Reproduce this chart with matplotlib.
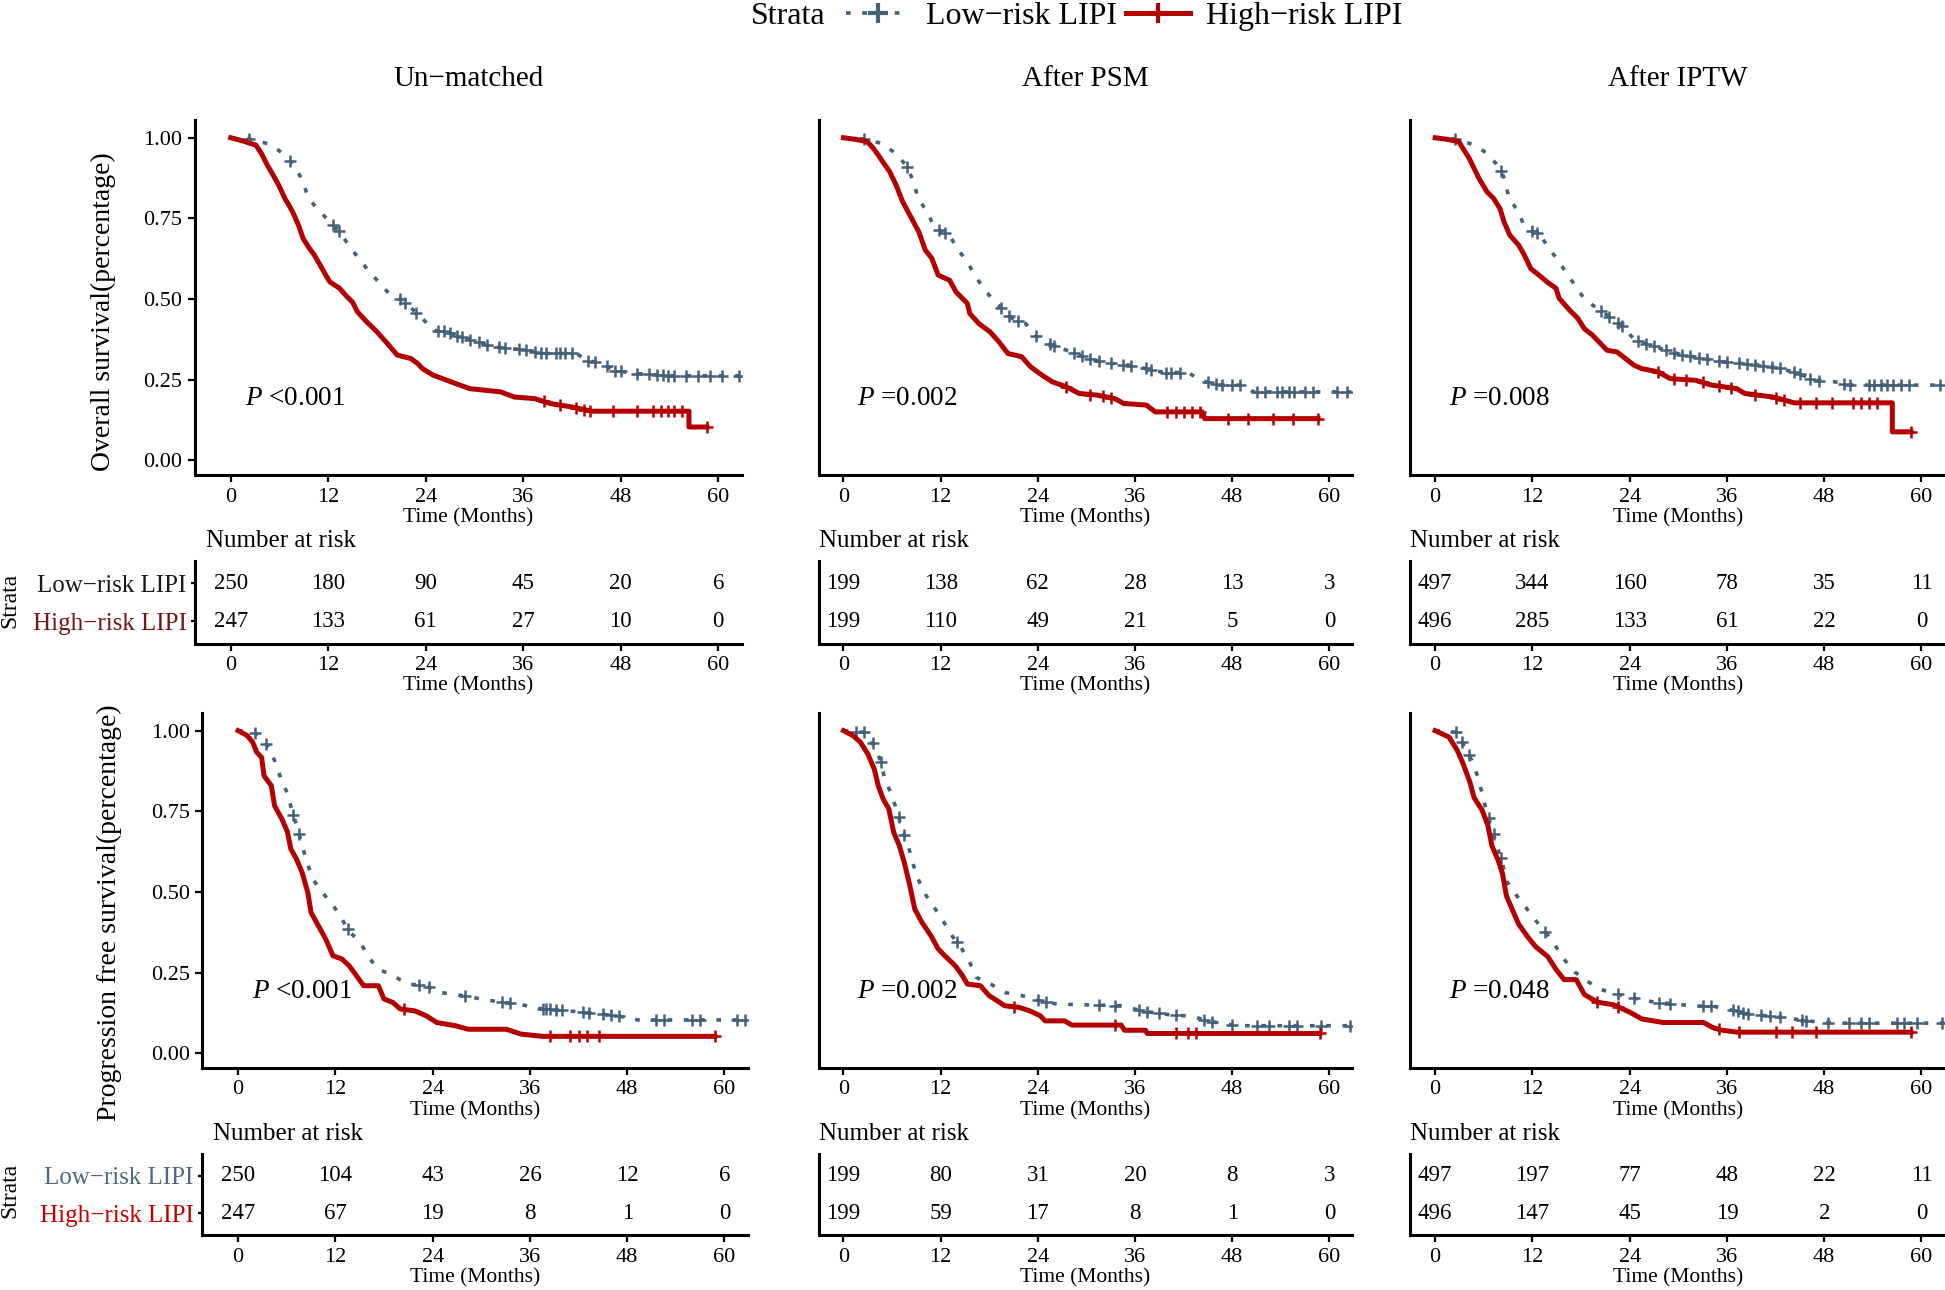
import matplotlib
matplotlib.use('Agg')
import matplotlib.pyplot as plt
from matplotlib.lines import Line2D
import numpy as np

plt.rcParams['font.family'] = ['Liberation Serif', 'DejaVu Serif']
plt.rcParams['mathtext.fontset'] = 'custom'
plt.rcParams['mathtext.rm'] = 'Liberation Serif'
plt.rcParams['mathtext.it'] = 'Liberation Serif:italic'

MINUS = '\u2212'
col_titles = ['Un' + MINUS + 'matched', 'After PSM', 'After IPTW']
strata_labels = ['Low' + MINUS + 'risk LIPI', 'High' + MINUS + 'risk LIPI']
row_ylabels = ['Overall survival(percentage)', 'Progression free survival(percentage)']
risk_times = [0, 12, 24, 36, 48, 60]

# curves are traced as (time, survival) points

# ---- Overall survival, un-matched
os_unm_low_t = [0, 2.3, 4.8, 6.5, 7.8, 8.8, 9.5, 10.6, 12.0, 13.4, 14.5, 15.6, 16.9, 18.2, 19.4, 21.1,
                22.5, 23.8, 24.9, 26.6, 28.2, 30.5, 32.1, 36.5, 38.7, 42.6, 43.7, 45.9, 47.0, 49.8, 54.2, 62.9]
os_unm_low_s = [1.0, 0.996, 0.98, 0.95, 0.915, 0.869, 0.817, 0.78, 0.745, 0.708, 0.667, 0.631, 0.589, 0.553,
                0.519, 0.496, 0.465, 0.434, 0.403, 0.398, 0.383, 0.367, 0.352, 0.341, 0.331, 0.331, 0.31,
                0.30, 0.279, 0.269, 0.262, 0.262]
os_unm_low_c = [2.3, 7.3, 12.6, 13.3, 20.8, 21.5, 22.8, 25.5, 26.2, 27, 27.8, 28.5, 29.5, 30.5, 31.5, 33,
                33.8, 35.5, 36.3, 37.5, 38.2, 38.8, 40, 40.5, 41.2, 42, 44, 44.8, 46.3, 47.3, 48, 50, 51.5,
                52.5, 53.2, 53.8, 54.5, 56, 57.5, 59, 60.5, 62.5]
os_unm_high_t = [0, 1.5, 3.1, 3.8, 4.5, 5.2, 5.9, 6.7, 7.3, 7.8, 8.4, 8.9, 9.6, 10.3, 11.0, 11.7, 12.2, 13.4,
                 14.2, 15.0, 15.6, 16.7, 18.0, 19.1, 20.5, 22.2, 23.0, 23.6, 24.9, 26.6, 28.2, 29.4, 33.2,
                 34.9, 37.4, 39.3, 42.0, 44.5, 56.4, 56.4, 58.6]
os_unm_high_s = [1.0, 0.99, 0.977, 0.95, 0.915, 0.885, 0.853, 0.81, 0.785, 0.76, 0.725, 0.688, 0.66, 0.636,
                 0.605, 0.574, 0.553, 0.533, 0.51, 0.49, 0.46, 0.43, 0.398, 0.367, 0.326, 0.315, 0.30, 0.284,
                 0.264, 0.248, 0.233, 0.222, 0.212, 0.196, 0.191, 0.176, 0.165, 0.152, 0.152, 0.103, 0.103]
os_unm_high_c = [38.5, 40.5, 42.5, 43.5, 44.2, 47, 50, 52, 53, 53.8, 54.5, 55.5, 58.6]

# ---- Overall survival, after PSM
os_psm_low_t = [0, 2.5, 4.8, 6.5, 7.7, 8.7, 9.2, 10.4, 11.2, 13.1, 14.0, 15.3, 16.2, 17.3, 18.5, 20.0, 21.1,
                22.5, 23.2, 24.7, 26.4, 28.6, 30.2, 32.4, 35.2, 37.4, 39.6, 42.6, 44.0, 46.5, 49.2, 50.6, 62.7]
os_psm_low_s = [1.0, 0.996, 0.982, 0.95, 0.915, 0.863, 0.81, 0.77, 0.72, 0.698, 0.657, 0.615, 0.574, 0.533,
                0.496, 0.46, 0.434, 0.424, 0.398, 0.367, 0.352, 0.331, 0.315, 0.302, 0.295, 0.284, 0.272,
                0.272, 0.248, 0.233, 0.233, 0.212, 0.212]
os_psm_low_c = [2.5, 7.8, 11.8, 12.5, 19.5, 20.5, 21.5, 23.8, 25.5, 26, 28.5, 29.5, 30.5, 31.5, 33, 34.5,
                35.5, 37.3, 38, 39.8, 40.5, 41.5, 45, 46, 46.8, 48, 49, 51, 52, 53.5, 54.2, 55, 55.6, 57,
                58, 61, 62.2]
os_psm_high_t = [0, 1.5, 2.9, 3.6, 4.3, 5.0, 5.7, 6.5, 7.3, 8.2, 9.3, 10.1, 10.9, 11.7, 13.1, 13.9, 15.3,
                 15.6, 16.7, 18.1, 19.2, 20.3, 22.0, 23.1, 24.5, 25.8, 27.5, 29.1, 31.3, 33.5, 34.6, 37.4,
                 38.5, 44.3, 44.6, 58.6]
os_psm_high_s = [1.0, 0.995, 0.988, 0.97, 0.946, 0.92, 0.895, 0.853, 0.802, 0.76, 0.708, 0.652, 0.626, 0.574,
                 0.558, 0.522, 0.486, 0.455, 0.424, 0.398, 0.367, 0.331, 0.321, 0.29, 0.264, 0.243, 0.228,
                 0.207, 0.202, 0.191, 0.176, 0.171, 0.15, 0.15, 0.129, 0.129]
os_psm_high_c = [27.5, 30.5, 32, 33, 40, 41, 42, 43, 44, 47.5, 50, 53, 55.5, 58.6]

# ---- Overall survival, after IPTW
os_iptw_low_t = [0, 2.5, 4.9, 6.4, 7.5, 8.2, 8.6, 9.1, 10.3, 11.0, 13.0, 14.0, 15.2, 16.2, 17.4, 18.5, 20.4,
                 21.2, 22.4, 23.5, 24.7, 26.5, 28.5, 30.6, 33.1, 35.6, 38.2, 40.2, 42.7, 44.8, 46.8, 49.3,
                 51.4, 62.9]
os_iptw_low_s = [1.0, 0.996, 0.977, 0.951, 0.92, 0.894, 0.869, 0.812, 0.77, 0.724, 0.698, 0.657, 0.62, 0.579,
                 0.538, 0.496, 0.465, 0.45, 0.429, 0.403, 0.372, 0.357, 0.341, 0.326, 0.315, 0.305, 0.30,
                 0.295, 0.284, 0.269, 0.248, 0.243, 0.233, 0.233]
os_iptw_low_c = [2.5, 8.1, 12, 12.6, 20.5, 21.5, 22.5, 23, 25, 26, 27, 28.5, 29.5, 30.5, 31.5, 32.5, 33.5,
                 35, 36, 37.5, 38.5, 39.5, 40.5, 41.5, 42.5, 44.3, 45, 46.3, 47.3, 50.5, 51.2, 53.5, 54.2,
                 55, 55.8, 56.5, 57.5, 58.5, 62.3]
os_iptw_high_t = [0, 1.5, 2.9, 3.6, 4.2, 4.8, 5.4, 6.4, 7.2, 8.0, 8.5, 9.2, 10.3, 11.0, 11.8, 12.8, 13.8,
                  14.9, 15.3, 16.6, 17.6, 18.4, 19.4, 20.4, 21.2, 22.4, 23.5, 24.5, 25.5, 27.5, 29.0, 32.1,
                  34.1, 37.2, 38.2, 41.7, 44.3, 56.4, 56.4, 58.7]
os_iptw_high_s = [1.0, 0.995, 0.988, 0.96, 0.936, 0.905, 0.874, 0.832, 0.812, 0.78, 0.739, 0.698, 0.667,
                  0.636, 0.594, 0.574, 0.553, 0.533, 0.502, 0.465, 0.44, 0.408, 0.388, 0.362, 0.341, 0.336,
                  0.315, 0.295, 0.284, 0.274, 0.253, 0.248, 0.233, 0.222, 0.207, 0.196, 0.178, 0.178, 0.088,
                  0.088]
os_iptw_high_c = [27.5, 29.5, 31, 33, 35, 36.5, 39.5, 42, 43, 45, 47, 49, 51.5, 52.5, 53.5, 54.5, 58.7]

# ---- Progression free survival, un-matched
pfs_unm_low_t = [0, 2.0, 2.9, 3.8, 4.5, 5.3, 6.1, 6.7, 7.3, 7.9, 8.5, 9.2, 10.4, 11.6, 12.6, 13.6, 15.1,
                 16.1, 17.3, 19.1, 21.0, 23.2, 25.0, 27.7, 30.0, 32.2, 34.7, 36.9, 42.1, 44.8, 47.1, 49.3, 62.8]
pfs_unm_low_s = [1.0, 0.995, 0.979, 0.948, 0.907, 0.85, 0.804, 0.747, 0.70, 0.643, 0.592, 0.54, 0.498,
                 0.462, 0.426, 0.38, 0.343, 0.297, 0.261, 0.24, 0.214, 0.209, 0.188, 0.178, 0.168, 0.159,
                 0.152, 0.139, 0.128, 0.121, 0.114, 0.103, 0.103]
pfs_unm_low_c = [2.1, 3.5, 6.8, 7.5, 13.5, 22.3, 23.5, 28, 32.5, 33.5, 37.6, 38, 38.5, 39.2, 40, 42.5, 43.3,
                 45, 46, 47, 51.5, 52.5, 56, 57, 61.5, 62.5]
pfs_unm_high_t = [0, 1.1, 1.8, 2.3, 2.9, 3.2, 4.1, 4.5, 5.4, 6.1, 6.5, 7.2, 7.9, 8.6, 9.0, 9.9, 10.8, 11.7,
                  12.8, 13.7, 14.6, 15.5, 17.3, 18.0, 19.1, 20.0, 21.8, 23.2, 24.5, 26.8, 28.4, 33.1, 34.9,
                  37.6, 58.8]
pfs_unm_high_s = [1.0, 0.985, 0.964, 0.933, 0.917, 0.86, 0.829, 0.767, 0.726, 0.685, 0.633, 0.602, 0.56,
                  0.498, 0.436, 0.395, 0.354, 0.302, 0.292, 0.271, 0.24, 0.209, 0.209, 0.168, 0.157, 0.137,
                  0.131, 0.116, 0.095, 0.085, 0.074, 0.074, 0.059, 0.052, 0.052]
pfs_unm_high_c = [20.5, 38.5, 41, 42, 43, 44.5, 58.8]

# ---- Progression free survival, after PSM
pfs_psm_low_t = [0, 2.5, 3.4, 3.8, 4.5, 5.1, 6.0, 6.7, 7.3, 8.0, 8.6, 9.3, 10.1, 11.2, 12.3, 13.4, 14.5,
                 15.6, 16.4, 18.2, 19.9, 22.1, 24.3, 26.4, 34.3, 36.9, 39.5, 43.0, 45.6, 48.6, 62.7]
pfs_psm_low_s = [1.0, 0.995, 0.974, 0.948, 0.912, 0.85, 0.798, 0.741, 0.69, 0.643, 0.586, 0.535, 0.493,
                 0.452, 0.41, 0.364, 0.328, 0.281, 0.235, 0.214, 0.188, 0.178, 0.162, 0.152, 0.147, 0.131,
                 0.121, 0.114, 0.097, 0.085, 0.085]
pfs_psm_low_c = [1.5, 2.5, 3.6, 4.6, 6.8, 7.5, 14, 24, 25, 31.5, 33.5, 36.5, 37.5, 39, 41, 44.5, 45.5, 48,
                 51, 52.5, 55, 56, 59, 62.5]
pfs_psm_high_t = [0, 1.2, 2.1, 3.0, 3.8, 4.3, 4.9, 5.6, 6.2, 6.9, 7.5, 8.2, 8.8, 9.7, 10.8, 11.7, 12.5,
                  13.8, 14.7, 15.3, 16.9, 18.0, 19.0, 19.9, 21.7, 23.0, 24.3, 24.9, 27.3, 28.2, 34.3, 34.7,
                  37.3, 37.5, 58.8]
pfs_psm_high_s = [1.0, 0.984, 0.964, 0.928, 0.881, 0.829, 0.788, 0.757, 0.685, 0.643, 0.592, 0.519, 0.447,
                  0.405, 0.364, 0.323, 0.302, 0.271, 0.24, 0.214, 0.209, 0.178, 0.162, 0.147, 0.142, 0.131,
                  0.116, 0.10, 0.10, 0.087, 0.087, 0.071, 0.071, 0.061, 0.061]
pfs_psm_high_c = [21, 33.5, 41, 42.5, 43.5, 58.8]

# ---- Progression free survival, after IPTW
pfs_iptw_low_t = [0, 2.6, 3.5, 4.5, 5.3, 6.3, 6.9, 7.6, 8.3, 8.8, 10.1, 11.3, 12.5, 13.8, 14.9, 15.9, 17.2,
                  18.9, 20.5, 22.5, 24.8, 27.1, 32.1, 34.2, 37.2, 39.2, 41.8, 44.3, 46.3, 49.4, 62.9]
pfs_iptw_low_s = [1.0, 0.995, 0.956, 0.909, 0.854, 0.753, 0.706, 0.643, 0.589, 0.534, 0.487, 0.448, 0.408,
                  0.369, 0.33, 0.291, 0.252, 0.221, 0.197, 0.182, 0.169, 0.158, 0.146, 0.146, 0.13, 0.119,
                  0.114, 0.106, 0.099, 0.093, 0.093]
pfs_iptw_low_c = [2.6, 3.3, 4.2, 6.6, 7.2, 8.1, 13.6, 22.5, 24.5, 27.6, 29, 33, 34, 36.7, 37.3, 38, 38.6,
                  40.2, 41.3, 42.5, 45.2, 45.8, 48.5, 51, 52.5, 53.5, 57, 57.8, 59.5, 62.5]
pfs_iptw_high_t = [0, 1.7, 2.7, 3.5, 4.3, 4.8, 5.8, 6.5, 7.0, 7.8, 8.3, 8.8, 9.6, 10.3, 11.4, 12.4, 13.9,
                   14.9, 15.9, 17.4, 18.4, 20.0, 22.0, 24.0, 25.5, 28.1, 33.1, 34.2, 35.2, 37.2, 58.7]
pfs_iptw_high_s = [1.0, 0.98, 0.94, 0.894, 0.839, 0.792, 0.753, 0.706, 0.643, 0.596, 0.557, 0.487, 0.44,
                   0.40, 0.361, 0.33, 0.299, 0.26, 0.228, 0.228, 0.182, 0.158, 0.15, 0.127, 0.106, 0.095,
                   0.095, 0.08, 0.072, 0.065, 0.065]
pfs_iptw_high_c = [20, 22.6, 35, 37.5, 42, 44, 47, 58.7]

# ---- number at risk
os_risk_low = [[250, 180, 90, 45, 20, 6], [199, 138, 62, 28, 13, 3], [497, 344, 160, 78, 35, 11]]
os_risk_high = [[247, 133, 61, 27, 10, 0], [199, 110, 49, 21, 5, 0], [496, 285, 133, 61, 22, 0]]
pfs_risk_low = [[250, 104, 43, 26, 12, 6], [199, 80, 31, 20, 8, 3], [497, 197, 77, 48, 22, 11]]
pfs_risk_high = [[247, 67, 19, 8, 1, 0], [199, 59, 17, 8, 1, 0], [496, 147, 45, 19, 2, 0]]

os_pvals = ['<0.001', '=0.002', '=0.008']
pfs_pvals = ['<0.001', '=0.002', '=0.048']

BLUE = '#45617A'
RED = '#B30000'

# layout, measured on a 1568 x 1040 grid
W, H = 1568.0, 1040.0
fig = plt.figure(figsize=(19.45, 12.9), dpi=100)


def box(l, r, t, b):
    return [l / W, 1 - b / H, (r - l) / W, (b - t) / H]


def style(ax):
    ax.spines[['top', 'right']].set_visible(False)
    ax.spines[['left', 'bottom']].set_linewidth(2.2)
    ax.tick_params(width=1.6, length=5, labelsize=16, pad=4)
    ax.set_xticks(risk_times)
    ax.set_xlabel('Time (Months)', fontsize=15.5, labelpad=1)


curves = [
    [(os_unm_low_t, os_unm_low_s, os_unm_low_c, os_unm_high_t, os_unm_high_s, os_unm_high_c),
     (os_psm_low_t, os_psm_low_s, os_psm_low_c, os_psm_high_t, os_psm_high_s, os_psm_high_c),
     (os_iptw_low_t, os_iptw_low_s, os_iptw_low_c, os_iptw_high_t, os_iptw_high_s, os_iptw_high_c)],
    [(pfs_unm_low_t, pfs_unm_low_s, pfs_unm_low_c, pfs_unm_high_t, pfs_unm_high_s, pfs_unm_high_c),
     (pfs_psm_low_t, pfs_psm_low_s, pfs_psm_low_c, pfs_psm_high_t, pfs_psm_high_s, pfs_psm_high_c),
     (pfs_iptw_low_t, pfs_iptw_low_s, pfs_iptw_low_c, pfs_iptw_high_t, pfs_iptw_high_s, pfs_iptw_high_c)]]
risks = [(os_risk_low, os_risk_high), (pfs_risk_low, pfs_risk_high)]
pvals = [os_pvals, pfs_pvals]

main_tb = [(97, 383), (575, 861)]
table_tb = [(452, 519), (930, 996)]
cols = [[(157, 598), (660, 1090), (1137, 1568)],
        [(163, 603), (660, 1090), (1137, 1568)]]
xlims = [(-4.43, 62.9), (-3.06, 62.8), (-3.06, 62.9)]
label_colors = [('#1A1A1A', '#701818'), ('#4F6A80', '#C00000')]

for r in range(2):
    for c in range(3):
        l, rr = cols[r][c]
        lt, ls, lc, ht, hs, hc = curves[r][c]

        ax = fig.add_axes(box(l, rr, *main_tb[r]))
        style(ax)
        ax.plot(lt, ls, color=BLUE, lw=2.6, ls=(0, (1.3, 3.2)))
        ax.plot(lc, np.interp(lc, lt, ls), ls='none', marker='+', color=BLUE, ms=8, mew=1.8)
        ax.plot(ht, hs, color=RED, lw=3.6)
        ax.plot(hc, np.interp(hc, ht, hs), ls='none', marker='+', color=RED, ms=8, mew=1.8)
        ax.set_xlim(*xlims[c])
        ax.set_ylim(-0.046, 1.054)
        ax.set_yticks([0, 0.25, 0.5, 0.75, 1.0])
        ax.set_yticklabels(['0.00', '0.25', '0.50', '0.75', '1.00'])
        if c > 0:
            ax.tick_params(axis='y', left=False, labelleft=False)
        ax.text(1.7, 0.19, r'$P$ ' + pvals[r][c], fontsize=19.5, ha='left', va='center')

        # risk table
        tx = fig.add_axes(box(l, rr, *table_tb[r]))
        style(tx)
        tx.set_xlim(*xlims[c])
        tx.set_ylim(0.4, 2.6)
        low_n, high_n = risks[r][0][c], risks[r][1][c]
        for k, tm in enumerate(risk_times):
            tx.text(tm, 2, str(low_n[k]), fontsize=16.5, ha='center', va='center')
            tx.text(tm, 1, str(high_n[k]), fontsize=16.5, ha='center', va='center')
        if c == 0:
            tx.set_yticks([2, 1])
            tx.set_yticklabels(strata_labels, fontsize=18)
            tx.tick_params(axis='y', length=3, pad=3)
            for lab, col in zip(tx.get_yticklabels(), label_colors[r]):
                lab.set_color(col)
        else:
            tx.set_yticks([])

        nx = l + 9 if c == 0 else l
        ny = 436 if r == 0 else 914
        fig.text(nx / W, 1 - ny / H, 'Number at risk', fontsize=18, ha='left', va='center')

    fig.text(8 / W, 1 - (484 if r == 0 else 960) / H, 'Strata', fontsize=17,
             rotation=90, ha='center', va='center')

fig.text(83 / W, 1 - 251 / H, row_ylabels[0], fontsize=20, rotation=90, ha='center', va='center')
fig.text(88 / W, 1 - 736 / H, row_ylabels[1], fontsize=20, rotation=90, ha='center', va='center')

for c, title in enumerate(col_titles):
    l, rr = cols[0][c]
    fig.text((l + rr) / 2 / W, 1 - 64 / H, title, fontsize=21, ha='center', va='center')

# legend on top
fig.text(605 / W, 1 - 13 / H, 'Strata', fontsize=23, ha='left', va='center')
handles = [Line2D([], [], color=BLUE, lw=2.6, ls=(0, (1.3, 3.2)), marker='+', ms=14, mew=3),
           Line2D([], [], color=RED, lw=3.6, marker='+', ms=14, mew=3)]
fig.legend(handles, strata_labels, loc='center left', bbox_to_anchor=(682 / W, 1 - 13 / H),
           ncol=2, frameon=False, fontsize=23, handlelength=2.0, handletextpad=0.5,
           columnspacing=0.3, borderpad=0, borderaxespad=0)

fig.savefig('out.png', dpi=100)
